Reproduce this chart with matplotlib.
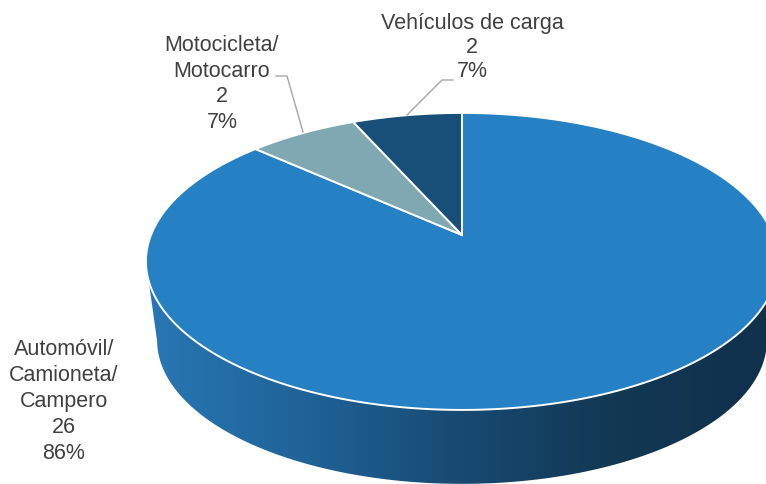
import numpy as np
import matplotlib
matplotlib.use("Agg")
import matplotlib.pyplot as plt
from matplotlib.colors import LinearSegmentedColormap
from matplotlib.patches import Polygon, PathPatch
from matplotlib.path import Path

plt.rcParams['font.family'] = ['Liberation Sans', 'DejaVu Sans']

# Clockwise from 12 o'clock
categories = ["Automóvil/\nCamioneta/\nCampero", "Motocicleta/\nMotocarro", "Vehículos de carga"]
counts = [26, 2, 2]
percents = ["86%", "7%", "7%"]
colors = ["#2581c4", "#7fa8b3", "#174f78"]

W, H = 766, 485
fig = plt.figure(figsize=(W / 100, H / 100), dpi=100)
ax = fig.add_axes([0, 0, 1, 1])
ax.set_xlim(0, W)
ax.set_ylim(H, 0)
ax.axis("off")


def project(theta, cx, cy, a, b, k=0.178):
    # disc seen in perspective, theta clockwise from the top
    u = np.sin(theta)
    v = np.cos(theta)
    d = 1 + k * v
    return np.column_stack([cx + b * u / d, cy - a * v / d])


# side wall, gradient clipped to the outline of the body
ring = np.linspace(0, 2 * np.pi, 361)
top_ring = project(ring, 462, 236, 143.8, 311)
low_ring = project(ring, 462, 316, 138.8, 300)
quad = np.array([[146, 263], [778, 263], [767, 341], [157, 341], [146, 263]])
body = Path.make_compound_path(Path(top_ring), Path(low_ring), Path(quad))

side_cmap = LinearSegmentedColormap.from_list(
    "side", ["#2877b4", "#1f6398", "#184a72", "#123853", "#10304c"])
grad = ax.imshow(np.linspace(0, 1, 256).reshape(1, -1), cmap=side_cmap,
                 extent=[147, 770, 490, 200], aspect="auto", zorder=1)
grad.set_clip_path(PathPatch(body, transform=ax.transData))
ax.set_xlim(0, W)
ax.set_ylim(H, 0)

# top face
edges = np.cumsum([0] + counts) / sum(counts) * 2 * np.pi
for i, color in enumerate(colors):
    t = np.linspace(edges[i], edges[i + 1], 200)
    arc = project(t, 462, 236, 143.8, 311)
    pts = np.vstack([[462, 236], arc])
    ax.add_patch(Polygon(pts, closed=True, facecolor=color, edgecolor="white",
                         linewidth=1.4, zorder=2, clip_on=True))

# labels
txt = dict(color="#404040", fontsize=15.5, ha="center", va="center")
ax.text(64, 401.5, f"{categories[0]}\n{counts[0]}\n{percents[0]}", linespacing=1.3, **txt)
ax.text(222, 84, f"{categories[1]}\n{counts[1]}\n{percents[1]}", linespacing=1.3, **txt)
ax.text(472, 47.5, f"{categories[2]}\n{counts[2]}\n{percents[2]}", linespacing=1.2, **txt)

# leader lines
ax.plot([276, 287, 303], [77, 77, 133], color="#a6a6a6", lw=1, zorder=3)
ax.plot([453, 442, 407], [81, 81, 116], color="#a6a6a6", lw=1, zorder=3)

fig.savefig("out.png", dpi=100)
